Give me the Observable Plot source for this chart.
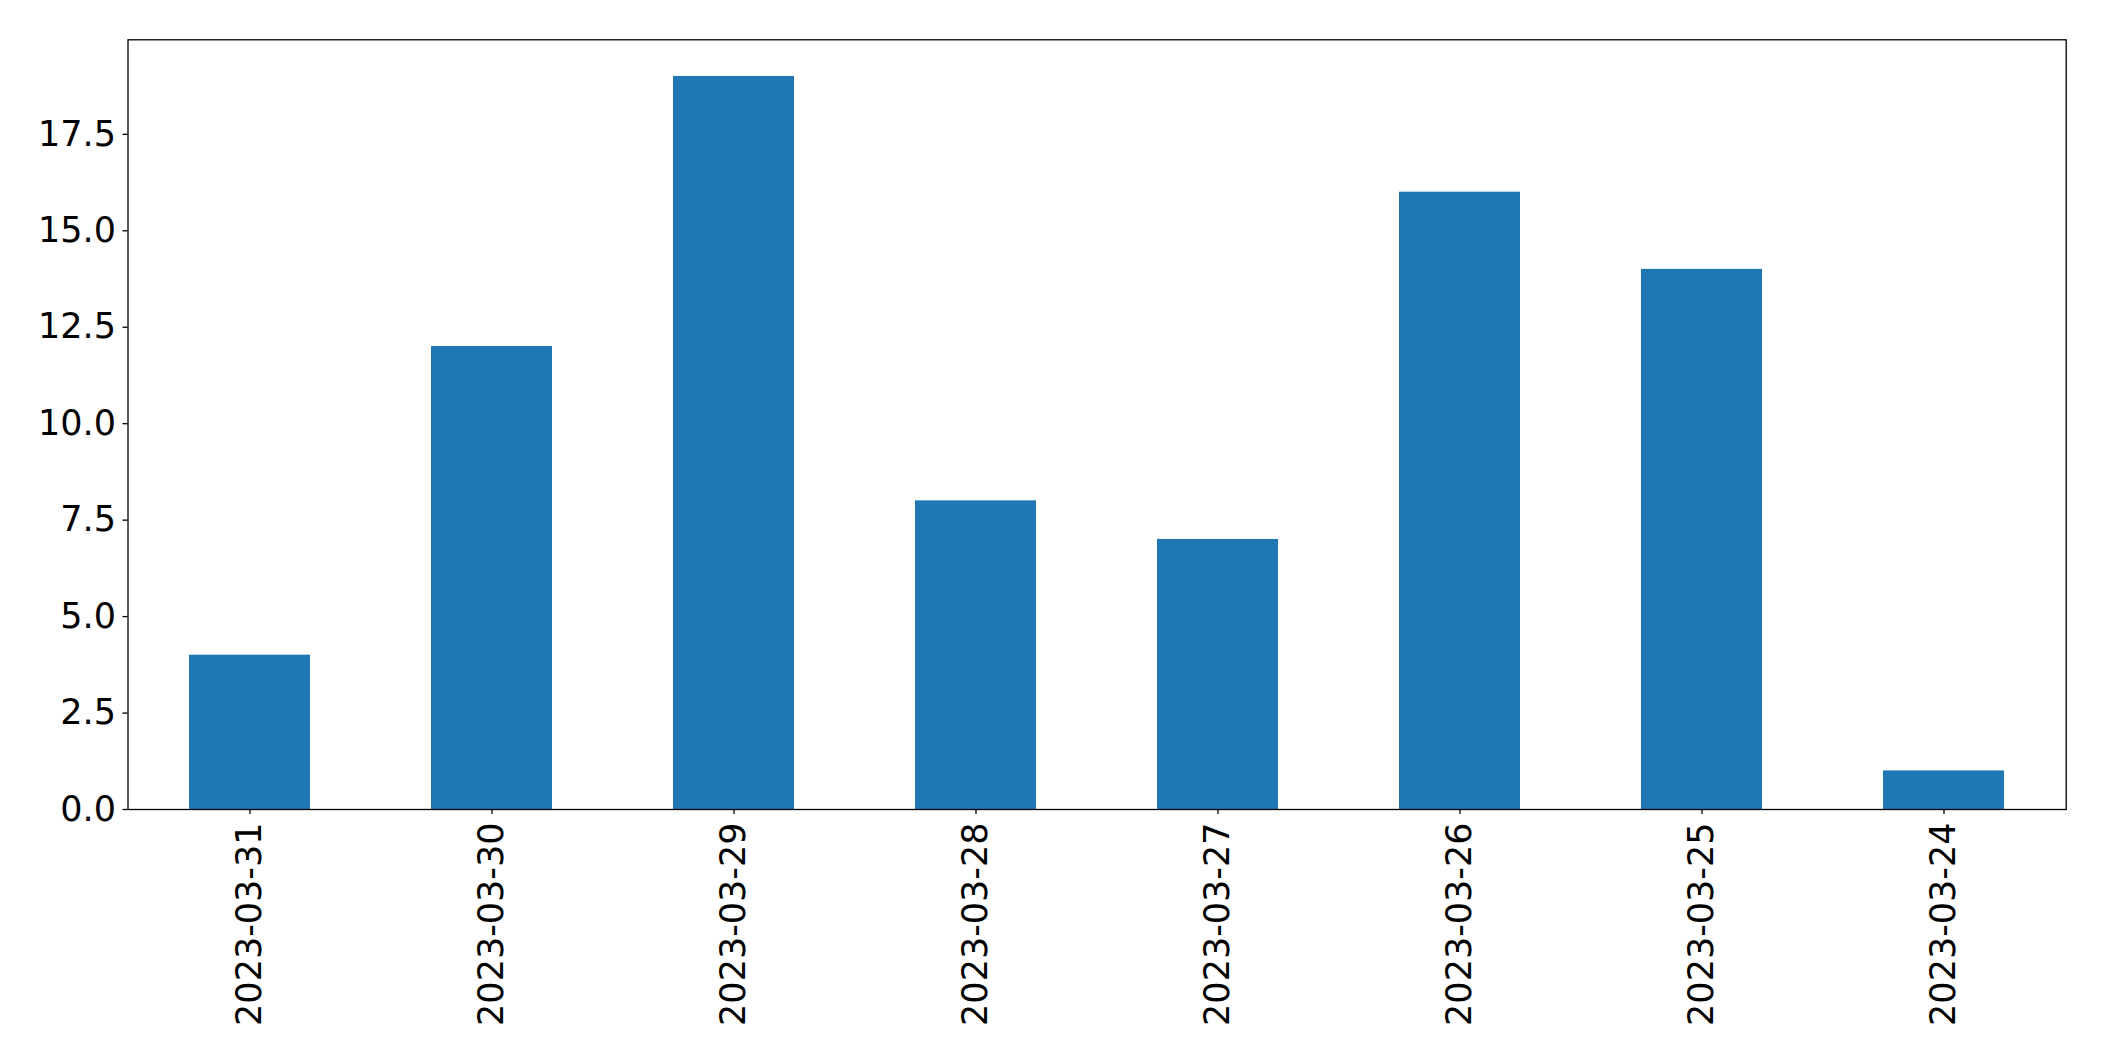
<!DOCTYPE html>
<html>
<head>
<meta charset="utf-8">
<script src="https://cdn.jsdelivr.net/npm/d3@7"></script>
<script src="https://cdn.jsdelivr.net/npm/@observablehq/plot@0.6"></script>
<style>
  html, body { margin: 0; padding: 0; background: #fff; }
  #chart svg { display: block; }
</style>
</head>
<body>
<div id="chart"></div>
<script>
const dates = ["2023-03-31", "2023-03-30", "2023-03-29", "2023-03-28", "2023-03-27", "2023-03-26", "2023-03-25", "2023-03-24"];
const counts = [4, 12, 19, 8, 7, 16, 14, 1];
const yTicks = [0, 2.5, 5, 7.5, 10, 12.5, 15, 17.5];

const data = dates.map((d, i) => ({date: d, count: counts[i]}));

const chart = Plot.plot({
  width: 2104,
  height: 1061,
  marginLeft: 127.5,
  marginTop: 39.3,
  marginRight: 38.3,
  marginBottom: 252,
  style: {fontFamily: "DejaVu Sans", fontSize: "35px", color: "#000", background: "#fff"},
  x: {domain: dates, paddingInner: 0.5, paddingOuter: 0.25, label: null},
  y: {domain: [0, 19.95], label: null},
  marks: [
    Plot.barY(data, {x: "date", y: "count", fill: "#1f77b4"}),
    Plot.axisY({ticks: yTicks, tickFormat: d3.format(".1f"), tickSize: 5, tickPadding: 7, fontSize: 35, stroke: "#000", strokeWidth: 1.3}),
    Plot.axisX({tickSize: 5, tickPadding: 8, tickRotate: -90, fontSize: 35, stroke: "#000", strokeWidth: 1.3}),
    Plot.frame({stroke: "#000", strokeWidth: 1.3})
  ]
});
document.getElementById("chart").appendChild(chart);
</script>
</body>
</html>
